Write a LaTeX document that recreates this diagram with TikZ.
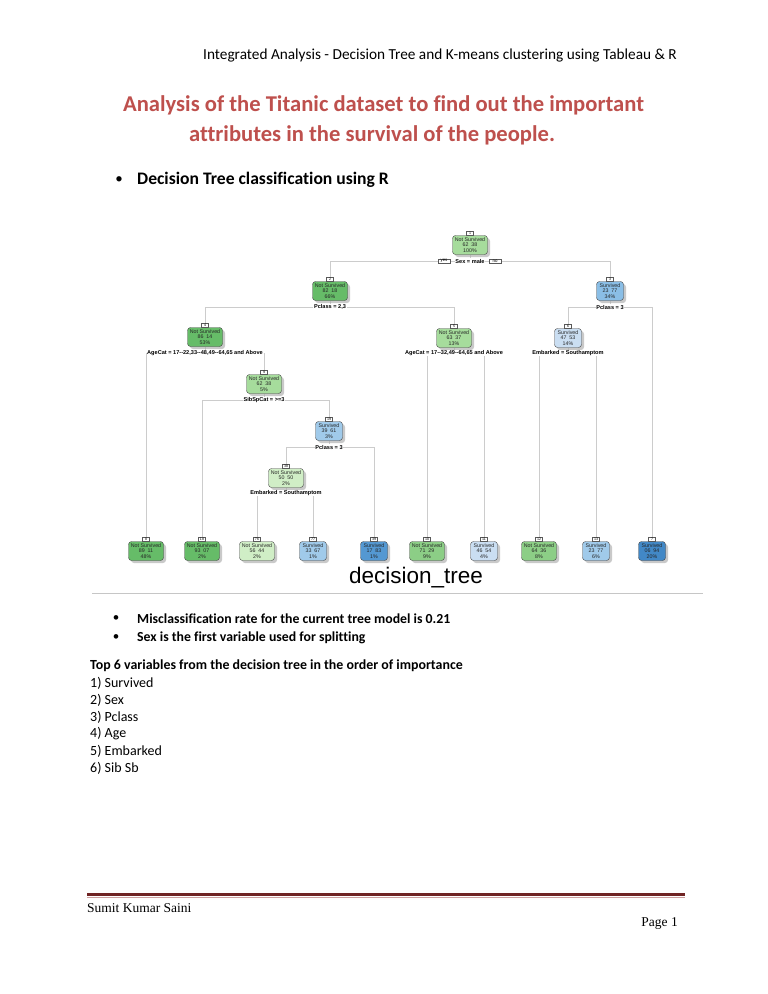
\documentclass[tikz,border=0pt]{standalone}
\usepackage{fontspec}
\setmainfont{Carlito}[Ligatures=NoCommon]
\newfontfamily\treefont{Liberation Sans}
\newfontfamily\footfont{Liberation Serif}
\usetikzlibrary{positioning, shadows, backgrounds}
\definecolor{titlered}{RGB}{190,80,77}
\definecolor{footred}{RGB}{112,36,36}
\definecolor{footpink}{RGB}{205,160,160}
\definecolor{gA}{RGB}{102,188,104}
\definecolor{gB}{RGB}{140,206,134}
\definecolor{gC}{RGB}{166,220,156}
\definecolor{gD}{RGB}{208,238,198}
\definecolor{bA}{RGB}{202,222,242}
\definecolor{bB}{RGB}{160,202,234}
\definecolor{bC}{RGB}{138,190,230}
\definecolor{bD}{RGB}{84,152,210}
\definecolor{bE}{RGB}{66,136,198}

\begin{document}
\begin{tikzpicture}[x=1pt, y=-1pt,
  tn/.style={draw=gray!55!black, rounded corners=3pt, minimum width=35pt, minimum height=19pt,
    inner sep=0.2pt, align=center, text=black!85,
    font=\treefont\fontsize{5.3}{5.9}\selectfont,
    drop shadow={shadow xshift=2.5pt, shadow yshift=-2.5pt, fill=black!35, opacity=0.6}},
  stn/.style={tn, minimum width=27pt},
  idx/.style={draw=gray!70!black, fill=white, inner sep=0.5pt, minimum width=7pt,
    anchor=south, font=\treefont\fontsize{3.6}{3.6}\selectfont},
  split/.style={fill=white, inner sep=0.6pt, font=\treefont\bfseries\fontsize{5.6}{6}\selectfont},
  yn/.style={draw=gray!70!black, fill=white, inner sep=0.6pt, minimum width=12pt,
    font=\treefont\fontsize{4.4}{4.4}\selectfont},
  edge/.style={draw=gray!40, line width=0.5pt},
  txt/.style={anchor=west, inner sep=0pt, font=\fontsize{14}{16}\selectfont}]
  \useasboundingbox (0,0) rectangle (768,994);

  \node[txt, font=\fontsize{15.3}{17}\selectfont] (hdr) at (203,55) {Integrated Analysis - Decision Tree and K-means clustering using Tableau \& R};
  \node[font=\bfseries\fontsize{22.6}{26}\selectfont, text=titlered] (ttl1) at (383.5,105)
    {Analysis of the Titanic dataset to find out the important};
  \node[font=\bfseries\fontsize{22.6}{26}\selectfont, text=titlered] (ttl2) at (372,135)
    {attributes in the survival of the people.};
  \node[font=\fontsize{15}{17}\selectfont] (bul0) at (119,180) {\textbullet};
  \node[txt, font=\bfseries\fontsize{17.6}{19}\selectfont] (dtc) at (137,180) {Decision Tree classification using R};

  \node[tn, fill=gC] (n1) at (470,245) {Not Survived\\62 \ 38\\100\%};
  \node[idx] (k1) at (n1.north) {1};
  \node[split] (s1) at (470,261) {Sex = male};
  \node[yn] (yes) at (444,261) {yes};
  \node[yn] (no) at (495,261) {no};

  \node[tn, fill=gA] (n2) at (330,291) {Not Survived\\82 \ 18\\66\%};
  \node[idx] (k2) at (n2.north) {2};
  \node[split] (s2) at (330,307) {Pclass = 2,3};
  \node[stn, fill=bC] (n3) at (610,291) {Survived\\23 \ 77\\34\%};
  \node[idx] (k3) at (n3.north) {3};
  \node[split] (s3) at (610,307) {Pclass = 3};

  \node[tn, fill=gA] (n4) at (205,337) {Not Survived\\86 \ 14\\53\%};
  \node[idx] (k4) at (n4.north) {4};
  \node[split] (s4) at (205,353) {AgeCat = 17--22,33--48,49--64,65 and Above};
  \node[tn, fill=gC] (n5) at (454,338) {Not Survived\\63 \ 37\\13\%};
  \node[idx] (k5) at (n5.north) {5};
  \node[split] (s5) at (454,353) {AgeCat = 17--32,49--64,65 and Above};
  \node[stn, fill=bA] (n6) at (568,338) {Survived\\47 \ 53\\14\%};
  \node[idx] (k6) at (n6.north) {6};
  \node[split] (s6) at (568,353) {Embarked = Southamptom};

  \node[tn, fill=gC] (n9) at (264,384) {Not Survived\\62 \ 38\\5\%};
  \node[idx] (k9) at (n9.north) {9};
  \node[split] (s9) at (264,400) {SibSpCat = >=3};
  \node[stn, fill=bB] (n19) at (329,431) {Survived\\39 \ 61\\3\%};
  \node[idx] (k19) at (n19.north) {19};
  \node[split] (s19) at (329,447) {Pclass = 3};
  \node[tn, fill=gD] (n38) at (286,478) {Not Survived\\50 \ 50\\2\%};
  \node[idx] (k38) at (n38.north) {38};
  \node[split] (s38) at (286,493) {Embarked = Southamptom};

  \node[tn, fill=gA] (l8) at (146,551) {Not Survived\\89 \ 11\\48\%};
  \node[idx] (k8) at (l8.north) {8};
  \node[tn, fill=gA] (l18) at (202,551) {Not Survived\\93 \ 07\\2\%};
  \node[idx] (k18) at (l18.north) {18};
  \node[tn, fill=gD] (l76) at (257,551) {Not Survived\\56 \ 44\\2\%};
  \node[idx] (k76) at (l76.north) {76};
  \node[stn, fill=bB] (l77) at (313,551) {Survived\\33 \ 67\\1\%};
  \node[idx] (k77) at (l77.north) {77};
  \node[stn, fill=bD] (l39) at (374,551) {Survived\\17 \ 83\\1\%};
  \node[idx] (k39) at (l39.north) {39};
  \node[tn, fill=gB] (l10) at (427,551) {Not Survived\\71 \ 29\\9\%};
  \node[idx] (k10) at (l10.north) {10};
  \node[stn, fill=bA] (l11) at (484,551) {Survived\\46 \ 54\\4\%};
  \node[idx] (k11) at (l11.north) {11};
  \node[tn, fill=gB] (l12) at (539,551) {Not Survived\\64 \ 36\\8\%};
  \node[idx] (k12) at (l12.north) {12};
  \node[stn, fill=bB] (l13) at (596,551) {Survived\\23 \ 77\\6\%};
  \node[idx] (k13) at (l13.north) {13};
  \node[stn, fill=bE] (l7) at (652,551) {Survived\\06 \ 94\\20\%};
  \node[idx] (k7) at (l7.north) {7};

  \begin{scope}[on background layer]
    \fill[white] (0,0) rectangle (768,994);
    \draw[edge] (n1) -- (s1);
    \draw[edge] (s1) -| (k2);
    \draw[edge] (s1) -| (k3);
    \draw[edge] (n2) -- (s2);
    \draw[edge] (s2) -| (k4);
    \draw[edge] (s2) -| (k5);
    \draw[edge] (n3) -- (s3);
    \draw[edge] (s3) -| (k6);
    \draw[edge] (s3) -| (k7);
    \draw[edge] (n4) -- (s4);
    \draw[edge] (s4) -| (k8);
    \draw[edge] (s4) -| (k9);
    \draw[edge] (n5) -- (s5);
    \draw[edge] (s5) -| (k10);
    \draw[edge] (s5) -| (k11);
    \draw[edge] (n6) -- (s6);
    \draw[edge] (s6) -| (k12);
    \draw[edge] (s6) -| (k13);
    \draw[edge] (n9) -- (s9);
    \draw[edge] (s9) -| (k18);
    \draw[edge] (s9) -| (k19);
    \draw[edge] (n19) -- (s19);
    \draw[edge] (s19) -| (k38);
    \draw[edge] (s19) -| (k39);
    \draw[edge] (n38) -- (s38);
    \draw[edge] (s38) -| (k76);
    \draw[edge] (s38) -| (k77);
  \end{scope}

  \node[font=\treefont\fontsize{22.5}{22.5}\selectfont] (cap) at (416,578) {decision\_tree};
  \draw[gray!45, line width=1pt] (92,593) -- (703,593);

  \node[font=\fontsize{13}{15}\selectfont] (bul1) at (116,619) {\textbullet};
  \node[txt, font=\bfseries\fontsize{13.8}{15}\selectfont] (mis) at (137,619) {Misclassification rate for the current tree model is 0.21};
  \node[font=\fontsize{13}{15}\selectfont] (bul2) at (116,638) {\textbullet};
  \node[txt, font=\bfseries\fontsize{13.8}{15}\selectfont] (sex) at (137,638) {Sex is the first variable used for splitting};
  \node[txt, font=\bfseries\fontsize{13.9}{15}\selectfont] (top) at (90,666) {Top 6 variables from the decision tree in the order of importance};
  \node[txt] (v1) at (90,683) {1) Survived};
  \node[txt] (v2) at (90,700) {2) Sex};
  \node[txt] (v3) at (90,717) {3) Pclass};
  \node[txt] (v4) at (90,734) {4) Age};
  \node[txt] (v5) at (90,751) {5) Embarked};
  \node[txt] (v6) at (90,768) {6) Sib Sb};

  \draw[footred, line width=3.5pt] (87,894.5) -- (685,894.5);
  \draw[footpink, line width=0.8pt] (87,897.5) -- (685,897.5);
  \node[txt, font=\footfont\fontsize{13.5}{15}\selectfont] (auth) at (87,908) {Sumit Kumar Saini};
  \node[anchor=east, inner sep=0pt, font=\footfont\fontsize{13.5}{15}\selectfont] (pg) at (678,923) {Page 1};
\end{tikzpicture}
\end{document}
